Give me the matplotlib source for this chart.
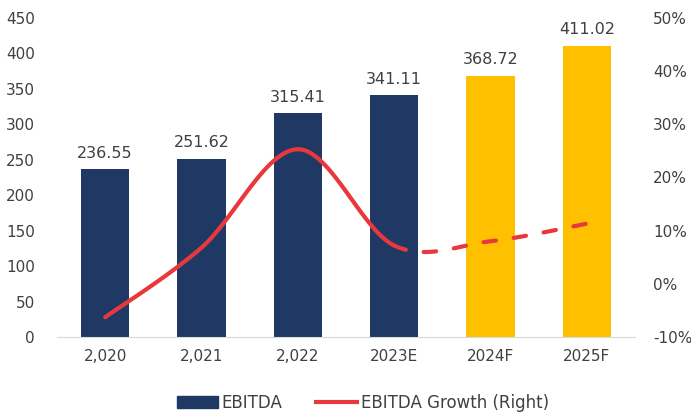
import numpy as np
import matplotlib
matplotlib.use("Agg")
import matplotlib.pyplot as plt
from matplotlib.patches import Patch
from matplotlib.lines import Line2D

plt.rcParams['font.family'] = ['DejaVu Sans']

years = ['2,020', '2,021', '2,022', '2023E', '2024F', '2025F']
ebitda = [236.55, 251.62, 315.41, 341.11, 368.72, 411.02]
growth = [-6.3, 6.8, 25.3, 7.2, 8.0, 11.3]
n_actual = 4

navy = '#1F3864'
yellow = '#FFC000'
red = '#E8383D'
txt = '#404040'


def smooth(xs, ys, steps=40):
    # catmull-rom style smoothing like office charts
    xs = np.asarray(xs, float)
    ys = np.asarray(ys, float)
    px, py = [], []
    for i in range(len(xs) - 1):
        x0, y0 = (xs[i - 1], ys[i - 1]) if i > 0 else (xs[i], ys[i])
        x3, y3 = (xs[i + 2], ys[i + 2]) if i + 2 < len(xs) else (xs[i + 1], ys[i + 1])
        x1, y1, x2, y2 = xs[i], ys[i], xs[i + 1], ys[i + 1]
        c1x, c1y = x1 + (x2 - x0) / 6, y1 + (y2 - y0) / 6
        c2x, c2y = x2 - (x3 - x1) / 6, y2 - (y3 - y1) / 6
        t = np.linspace(0, 1, steps)
        bx = (1-t)**3*x1 + 3*(1-t)**2*t*c1x + 3*(1-t)*t**2*c2x + t**3*x2
        by = (1-t)**3*y1 + 3*(1-t)**2*t*c1y + 3*(1-t)*t**2*c2y + t**3*y2
        px.append(bx)
        py.append(by)
    return px, py


fig = plt.figure(figsize=(6.91, 4.16), dpi=100)
ax = fig.add_axes([0.0825, 0.19, 0.8365, 0.767])
x = np.arange(len(years))
colors = [navy] * n_actual + [yellow] * (len(years) - n_actual)
ax.bar(x, ebitda, width=0.5, color=colors, zorder=2)
for xi, v in zip(x, ebitda):
    ax.text(xi, v + 12, f'{v:.2f}', ha='center', va='bottom', fontsize=11.5, color=txt)

ax.set_ylim(0, 450)
ax.set_xlim(-0.5, len(years) - 0.5)
ax.set_yticks(range(0, 451, 50))
ax.set_xticks(x, years)
for s in ['top', 'right', 'left']:
    ax.spines[s].set_visible(False)
ax.spines['bottom'].set_color('#D9D9D9')
ax.tick_params(axis='both', length=0, labelsize=11, colors=txt)
ax.tick_params(axis='x', pad=9)
ax.tick_params(axis='y', pad=16)

ax2 = ax.twinx()
ax2.set_ylim(-10, 50)
ax2.set_yticks(range(-10, 51, 10))
ax2.set_yticklabels([f'{t}%' for t in range(-10, 51, 10)])
for s in ax2.spines.values():
    s.set_visible(False)
ax2.tick_params(axis='y', length=0, labelsize=11, colors=txt, pad=13)

px, py = smooth(x, growth)
sx = np.concatenate(px[:n_actual - 1])
sy = np.concatenate(py[:n_actual - 1])
dx = np.concatenate(px[n_actual - 1:])
dy = np.concatenate(py[n_actual - 1:])
ax2.plot(sx, sy, color=red, lw=3, solid_capstyle='round', zorder=3)
ax2.plot(dx, dy, color=red, lw=3, dashes=(3, 4.3), dash_capstyle='round', zorder=3)

handles = [Patch(color=navy), Line2D([], [], color=red, lw=3)]
fig.legend(handles, ['EBITDA', 'EBITDA Growth (Right)'], loc='center', bbox_to_anchor=(0.525, 0.031),
           ncol=2, frameon=False, fontsize=12, handlelength=2.5, handletextpad=0.2, columnspacing=2.0,
           labelcolor=txt)

fig.savefig('out.png', dpi=100)
